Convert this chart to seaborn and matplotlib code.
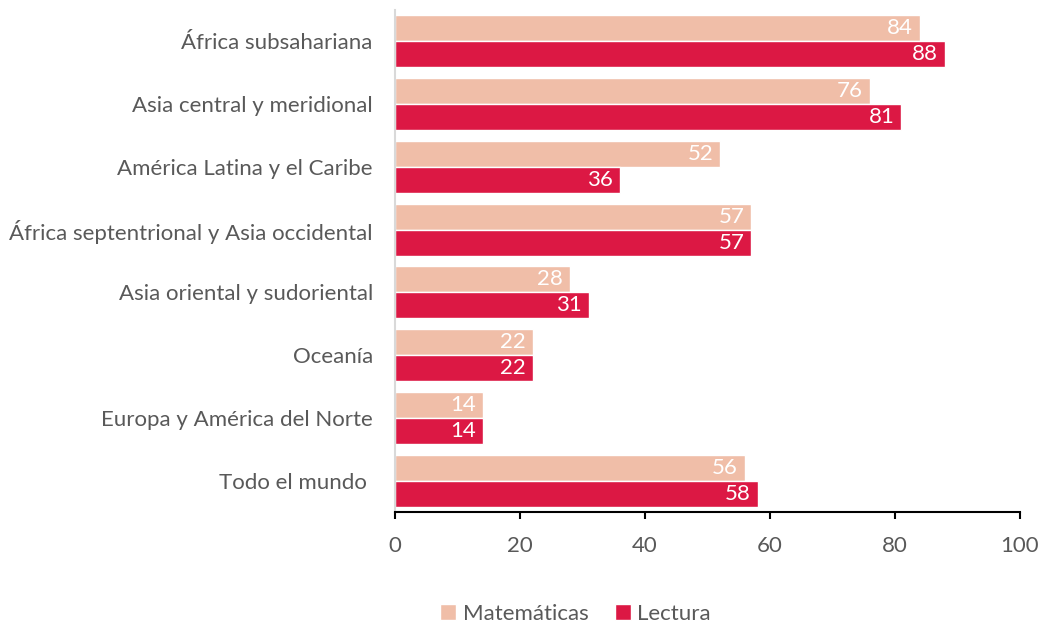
import matplotlib
matplotlib.use("Agg")
import matplotlib.pyplot as plt
import seaborn as sns
import pandas as pd

regions = ["África subsahariana", "Asia central y meridional", "América Latina y el Caribe",
           "África septentrional y Asia occidental", "Asia oriental y sudoriental",
           "Oceanía", "Europa y América del Norte", "Todo el mundo "]
matematicas = [84, 76, 52, 57, 28, 22, 14, 56]
lectura = [88, 81, 36, 57, 31, 22, 14, 58]
series = ["Matemáticas", "Lectura"]
colors = ["#F0BEA8", "#DC1844"]
xticks = [0, 20, 40, 60, 80, 100]

df = pd.DataFrame({
    "region": regions * 2,
    "valor": matematicas + lectura,
    "serie": [series[0]] * len(regions) + [series[1]] * len(regions),
})

sns.set_theme(style="white")
plt.rcParams["font.family"] = ["Lato", "DejaVu Sans"]

fig = plt.figure(figsize=(10.41, 6.24), dpi=100)
ax = fig.add_axes([395 / 1041, 1 - 512 / 624, (1020 - 395) / 1041, 502 / 624])

sns.barplot(data=df, y="region", x="valor", hue="serie", order=regions,
            hue_order=series, palette=colors, orient="h", width=0.83,
            saturation=1, ax=ax, legend=True)

for cont in ax.containers:
    texts = ax.bar_label(cont, labels=[f"{v:.0f}" for v in cont.datavalues],
                         padding=-5, color="white", fontsize=16)
    for t in texts:
        t.set_ha("right")

ax.set_xlim(0, 100)
ax.set_xticks(xticks)
ax.set_xticklabels([str(t) for t in xticks])
ax.set_ylim(len(regions) - 0.5, -0.5)
ax.set_xlabel("")
ax.set_ylabel("")

for s in ["top", "right"]:
    ax.spines[s].set_visible(False)
ax.spines["left"].set_color("#D9D9D9")
ax.spines["left"].set_linewidth(1.5)
ax.spines["bottom"].set_color("black")
ax.spines["bottom"].set_linewidth(1.5)

ax.tick_params(axis="x", direction="out", length=5, width=1.5, color="black",
               labelsize=16, labelcolor="#595959", pad=12, bottom=True)
ax.tick_params(axis="y", length=0, labelsize=16, labelcolor="#595959", pad=16)

handles, labels = ax.get_legend_handles_labels()
ax.legend_.remove()
fig.legend(handles, labels, loc="lower center", bbox_to_anchor=(0.553, -0.032),
           ncol=2, frameon=False, fontsize=16, labelcolor="#595959",
           handlelength=0.7, handleheight=0.7, handletextpad=0.3,
           columnspacing=1.2)

fig.savefig("out.png", dpi=100)
